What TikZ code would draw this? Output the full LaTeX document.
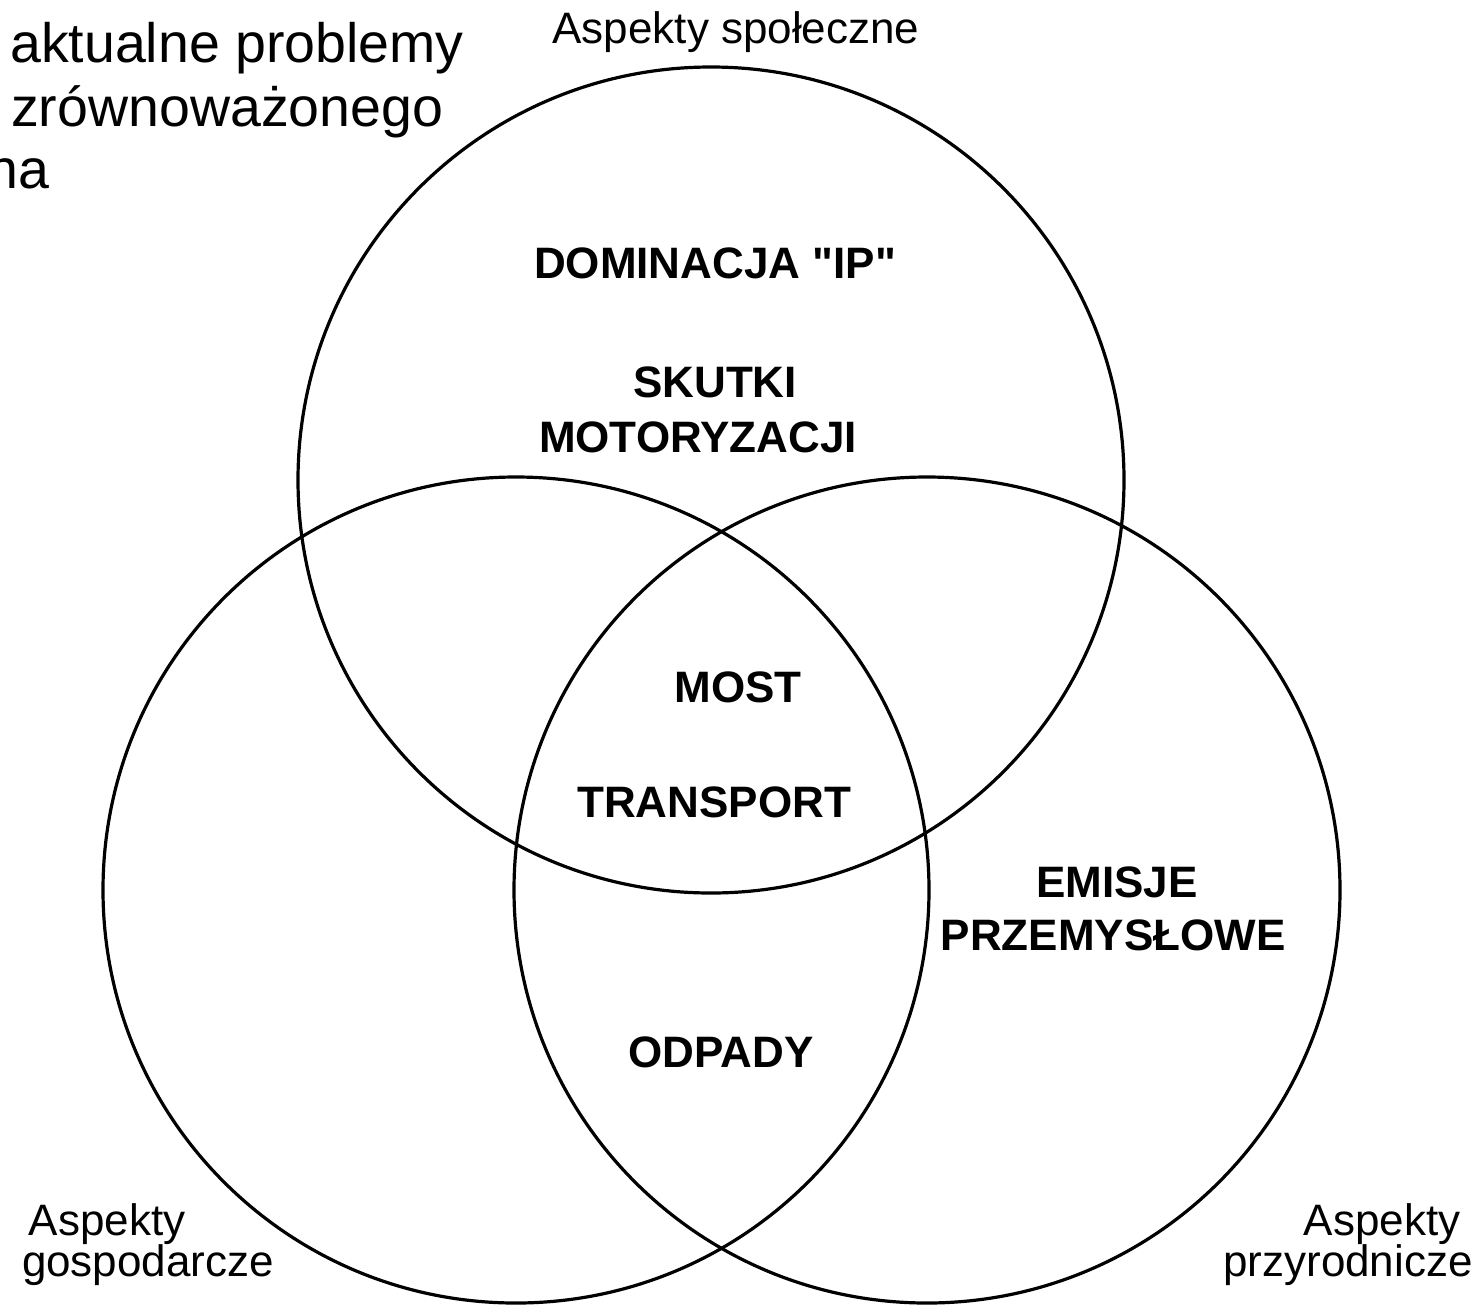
\documentclass[tikz,border=0pt]{standalone}
\usepackage{fontspec}
\setmainfont{Liberation Sans}[Ligatures=TeXOff]
\begin{document}
\begin{tikzpicture}[x=1pt,y=-1pt,
  ring/.style={draw=black,line width=3.2pt},
  lbl/.style={anchor=base,inner sep=0pt,font=\fontsize{44}{50}\selectfont},
  blbl/.style={anchor=base,inner sep=0pt,font=\fontsize{44}{50}\selectfont\bfseries},
  ttl/.style={anchor=base west,inner sep=0pt,font=\fontsize{55.5}{64}\selectfont}]
\useasboundingbox (0,0) rectangle (1482,1307);
\clip (0,0) rectangle (1482,1307);
\fill[white] (0,0) rectangle (1482,1307);
% circles
\node[ring,circle,minimum size=826pt,inner sep=0pt] (top) at (711,480) {};
\node[ring,circle,minimum size=826pt,inner sep=0pt] (left) at (516,890) {};
\node[ring,circle,minimum size=826pt,inner sep=0pt] (right) at (927,890) {};
% title (cropped at the left edge, as in the reference)
\node[ttl] (t1) at (10,62) {aktualne problemy};
\node[ttl] (t2) at (11,126) {zrównoważonego};
\node[ttl] (t3) at (-12.6,188) {na};
% aspect labels
\node[lbl] (as) at (736,43) {Aspekty społeczne};
\node[lbl] (ag1) at (107,1235) {Aspekty};
\node[lbl] (ag2) at (148,1276) {gospodarcze};
\node[lbl] (ap1) at (1382,1235) {Aspekty};
\node[lbl] (ap2) at (1348,1276) {przyrodnicze};
% bold labels
\node[blbl] (dom) at (715,278) {DOMINACJA "IP"};
\node[blbl] (sk1) at (715,397) {SKUTKI};
\node[blbl] (sk2) at (698,452) {MOTORYZACJI};
\node[blbl] (most) at (738,702) {MOST};
\node[blbl] (tr) at (714,817) {TRANSPORT};
\node[blbl] (em1) at (1117,897) {EMISJE};
\node[blbl] (em2) at (1113,950) {PRZEMYSŁOWE};
\node[blbl] (odp) at (721,1067) {ODPADY};
\end{tikzpicture}
\end{document}
